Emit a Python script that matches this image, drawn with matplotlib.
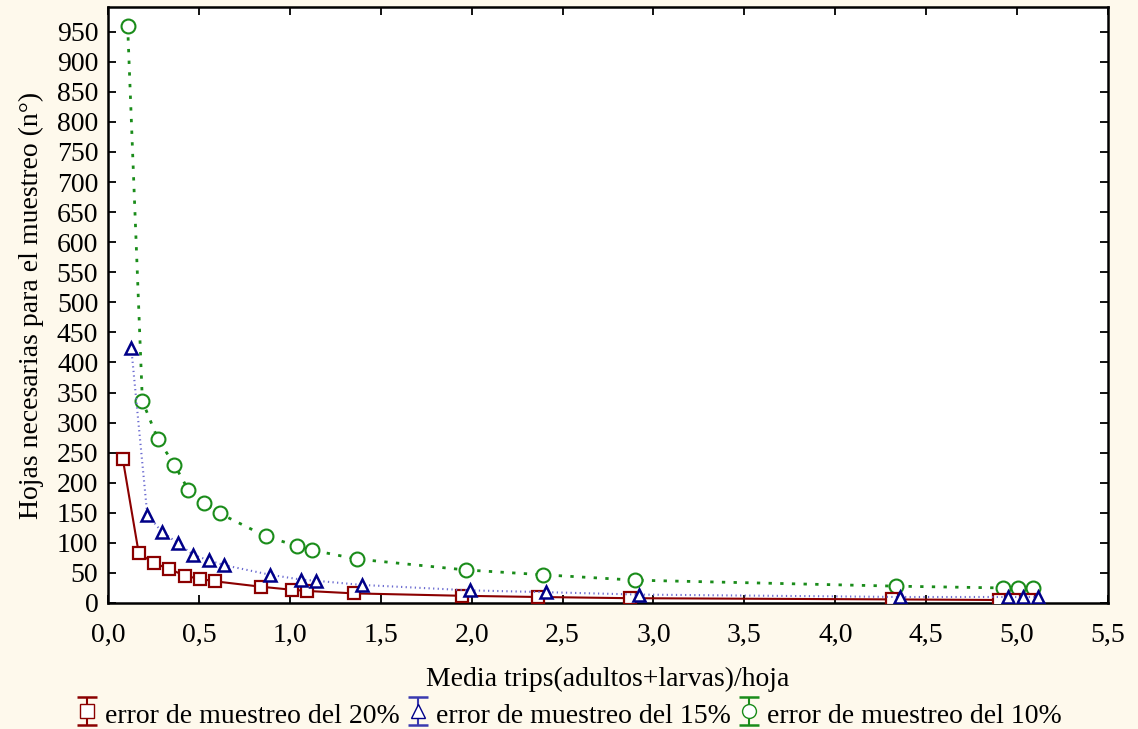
import matplotlib
matplotlib.use("Agg")
import matplotlib.pyplot as plt
import numpy as np

# ---- data ----
x_20 = [0.081, 0.169, 0.253, 0.336, 0.424, 0.508, 0.590, 0.843, 1.012, 1.096, 1.353,
        1.945, 2.367, 2.870, 4.310, 4.900, 4.983, 5.066]
y_20 = [240, 83, 66, 57, 45, 40, 36, 27, 22, 20, 16, 12, 10, 8, 6, 5, 5, 5]

x_15 = [0.128, 0.216, 0.297, 0.383, 0.469, 0.554, 0.638, 0.891, 1.060, 1.144, 1.399,
        1.990, 2.410, 2.920, 4.356, 4.950, 5.030, 5.115]
y_15 = [424, 147, 118, 100, 80, 71, 63, 47, 39, 37, 30, 21, 18, 14, 10, 10, 10, 10]

x_10 = [0.108, 0.189, 0.275, 0.365, 0.442, 0.528, 0.614, 0.867, 1.038, 1.120, 1.371,
        1.967, 2.390, 2.897, 4.334, 4.925, 5.007, 5.090]
y_10 = [960, 336, 272, 230, 188, 166, 149, 111, 95, 88, 73, 55, 47, 38, 28, 25, 25, 25]

series_labels = ["error de muestreo del 20%", "error de muestreo del 15%", "error de muestreo del 10%"]
x_ticks = [0.0, 0.5, 1.0, 1.5, 2.0, 2.5, 3.0, 3.5, 4.0, 4.5, 5.0, 5.5]
y_ticks = list(range(0, 1000, 50))

x_label = "Media trips(adultos+larvas)/hoja"
y_label = "Hojas necesarias para el muestreo (n°)"

# ---- styling ----
plt.rcParams['font.family'] = ['Liberation Serif', 'DejaVu Serif']
BG = '#FEF9EC'
RED = '#8B0000'
BLUE = '#000088'
BLUE_LINE = '#6a6ad0'
GREEN = '#1a8c1a'
FS = 20

fig = plt.figure(figsize=(11.38, 7.29), dpi=100, facecolor=BG)
ax = fig.add_axes([108/1138, 1 - 603/729, 1000/1138, 596/729])
ax.set_facecolor('white')

ax.plot(x_20, y_20, '-', color=RED, lw=1.5, marker='s', ms=8.5, mfc='white',
        mec=RED, mew=1.6, zorder=3)
ax.plot(x_15, y_15, linestyle=(0, (0.6, 1.6)), color=BLUE_LINE, lw=1.5, marker='^', ms=8.5,
        mfc='white', mec=BLUE, mew=1.8, zorder=4)
ax.plot(x_10, y_10, linestyle=(0, (1.2, 3.0)), color=GREEN, lw=2.0, marker='o', ms=10,
        mfc='white', mec=GREEN, mew=1.5, zorder=2)

ax.set_xlim(0, 5.5)
ax.set_ylim(0, 991)
ax.set_xticks(x_ticks)
ax.set_xticklabels([f"{v:.1f}".replace('.', ',') for v in x_ticks])
ax.set_yticks(y_ticks)
ax.set_yticklabels([str(v) for v in y_ticks])
ax.tick_params(direction='in', length=6, width=1.3, top=True, right=True,
               labelsize=FS, colors='black')
ax.tick_params(axis='y', pad=7)
ax.tick_params(axis='x', pad=14)
for s in ax.spines.values():
    s.set_linewidth(1.8)
    s.set_color('black')

ax.set_xlabel(x_label, fontsize=FS, labelpad=14)
ax.set_ylabel(y_label, fontsize=FS, labelpad=9)

# legend proxies: error-bar style glyphs
h20 = ax.errorbar([np.nan], [np.nan], yerr=[1], fmt='s', ms=10, mfc='white', mec=RED,
                  ecolor=RED, color=RED, capsize=7, elinewidth=1.5, capthick=1.8)
h15 = ax.errorbar([np.nan], [np.nan], yerr=[1], fmt='^', ms=10, mfc='white', mec=BLUE,
                  ecolor='#3a3ab0', color=BLUE, capsize=7, elinewidth=1.5, capthick=1.8)
h10 = ax.errorbar([np.nan], [np.nan], yerr=[1], fmt='o', ms=10, mfc='white', mec=GREEN,
                  ecolor=GREEN, color=GREEN, capsize=7, elinewidth=1.5, capthick=1.8)
fig.legend([h20, h15, h10], series_labels, loc='center', bbox_to_anchor=(0.5, 1 - 714/729),
           ncol=3, frameon=False, fontsize=FS, handlelength=0.8, handleheight=1.2,
           handletextpad=0.25, columnspacing=0.25, borderpad=0)

fig.savefig('out.png', dpi=100, facecolor=BG)
